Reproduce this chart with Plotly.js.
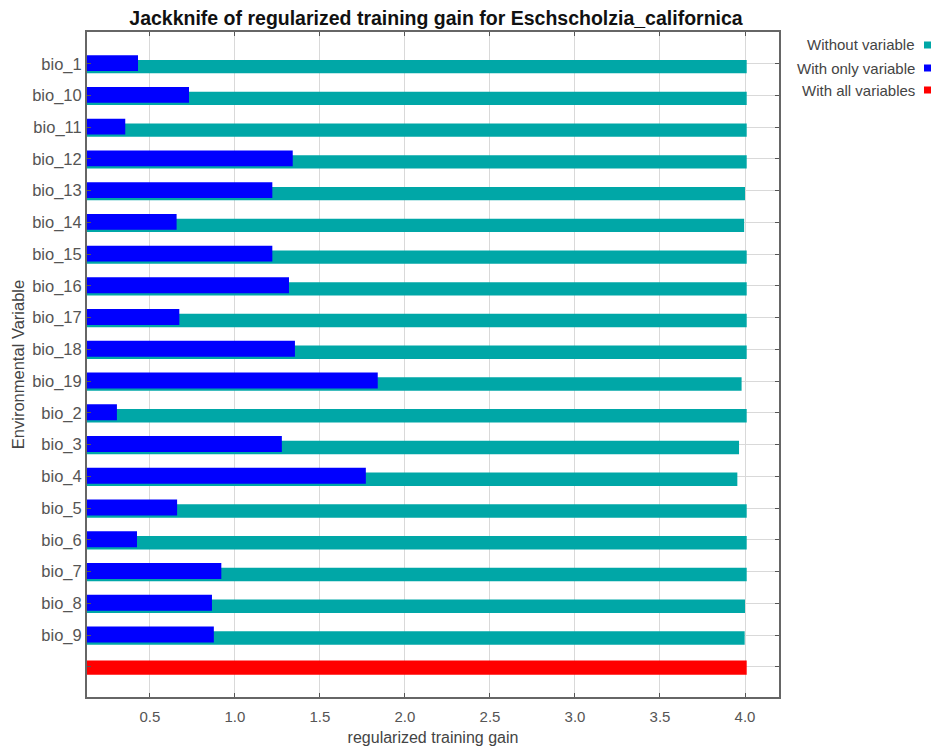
<!DOCTYPE html>
<html>
<head>
<meta charset="utf-8">
<script src="https://cdn.plot.ly/plotly-3.0.1.min.js"></script>
<style>html,body{margin:0;padding:0;background:#fff;}#chart{width:933px;height:749px;}</style>
</head>
<body>
<div id="chart"></div>
<script>
// Data
const variables = ["bio_1","bio_10","bio_11","bio_12","bio_13","bio_14","bio_15","bio_16","bio_17","bio_18","bio_19","bio_2","bio_3","bio_4","bio_5","bio_6","bio_7","bio_8","bio_9"];
const withoutVariable = [4.01,4.01,4.01,4.01,4.0,3.995,4.01,4.01,4.01,4.01,3.98,4.01,3.965,3.955,4.01,4.01,4.01,4.0,3.998];
const withOnlyVariable = [0.43,0.73,0.355,1.34,1.22,0.657,1.22,1.318,0.673,1.353,1.84,0.306,1.276,1.77,0.66,0.424,0.92,0.865,0.876];
const allVariablesLabel = "all";
const withAllVariables = [4.01];
const legendNames = ["Without variable","With only variable","With all variables"];
const chartTitle = "Jackknife of regularized training gain for Eschscholzia_californica";
const xTitle = "regularized training gain";
const yTitle = "Environmental Variable";

const colors = ["#00a7a7","#0000ff","#ff0000"];
const cats = variables.concat([allVariablesLabel]);
const tickText = variables.concat([""]);

const traces = [
  {type:"bar", orientation:"h", name:legendNames[0], y:variables, x:withoutVariable,
   marker:{color:colors[0]}, width:0.42, offset:-0.12, showlegend:false, hoverinfo:"x+y"},
  {type:"bar", orientation:"h", name:legendNames[1], y:variables, x:withOnlyVariable,
   marker:{color:colors[1]}, width:0.5, offset:-0.27, showlegend:false, hoverinfo:"x+y"},
  {type:"bar", orientation:"h", name:legendNames[2], y:[allVariablesLabel], x:withAllVariables,
   marker:{color:colors[2]}, width:0.45, offset:-0.2, showlegend:false, hoverinfo:"x+y"}
];

const L = 87, R = 779, T = 32, B = 697;
const pw = R - L, ph = B - T;
const legY = [45, 68, 90];
const annotations = legendNames.map((n,i)=>({
  xref:"paper", yref:"paper", x:(917-L)/pw, y:(B-legY[i])/ph, xanchor:"right", yanchor:"middle",
  text:n, showarrow:false, font:{family:"Liberation Sans, Arial, sans-serif", size:15, color:"#444"}
}));
const shapes = legendNames.map((n,i)=>({
  type:"rect", xref:"paper", yref:"paper",
  x0:(924-L)/pw, x1:(931-L)/pw, y0:(B-legY[i]-3.5)/ph, y1:(B-legY[i]+3.5)/ph,
  fillcolor:colors[i], line:{width:0}
}));

const layout = {
  width:933, height:749,
  margin:{l:L, r:933-R, t:T, b:749-B, pad:0},
  paper_bgcolor:"#fff", plot_bgcolor:"#fff",
  barmode:"overlay",
  title:{text:"<b>"+chartTitle+"</b>", x:(436)/933, xanchor:"center", y:1-18/749, yanchor:"middle",
    font:{family:"Liberation Sans, Arial, sans-serif", size:19.5, color:"#111"}},
  font:{family:"Liberation Sans, Arial, sans-serif", color:"#444"},
  xaxis:{range:[0.13,4.2], tick0:0.5, dtick:0.5, tickformat:".1f",
    showgrid:true, gridcolor:"#d9d9d9", gridwidth:1, zeroline:false,
    showline:true, linecolor:"#666", linewidth:2, mirror:"ticks",
    ticks:"inside", ticklen:4, tickcolor:"#555", ticklabelstandoff:5,
    tickfont:{size:15, color:"#555"},
    title:{text:xTitle, font:{size:16, color:"#444"}, standoff:8}},
  yaxis:{type:"category", categoryorder:"array", categoryarray:cats,
    tickvals:cats, ticktext:tickText, range:[19.95,-1],
    showgrid:true, gridcolor:"#d9d9d9", gridwidth:1, zeroline:false,
    showline:true, linecolor:"#666", linewidth:2, mirror:"ticks",
    ticks:"inside", ticklen:4, tickcolor:"#555",
    tickfont:{size:16.5, color:"#555"},
    title:{text:yTitle, font:{size:16.5, color:"#444"}, standoff:3}},
  annotations:annotations,
  shapes:shapes
};

Plotly.newPlot("chart", traces, layout, {displayModeBar:false, staticPlot:true});
</script>
</body>
</html>
